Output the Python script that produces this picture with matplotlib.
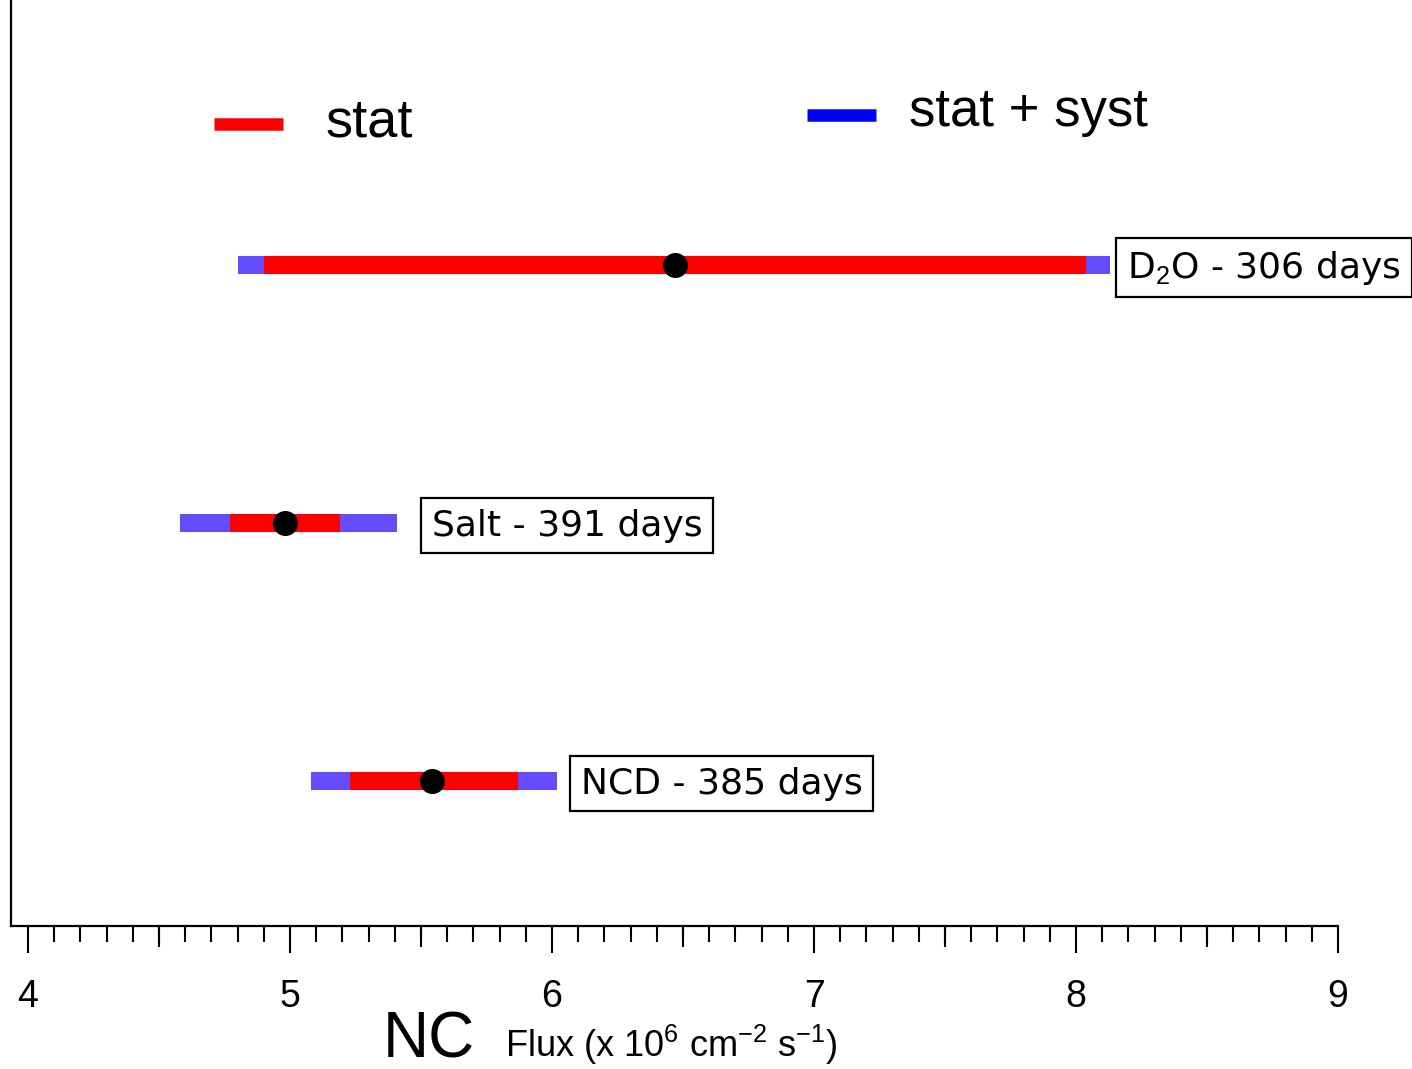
import numpy as np
import matplotlib.pyplot as plt

plt.rcParams['mathtext.fontset'] = 'custom'
plt.rcParams['mathtext.rm'] = 'Liberation Sans'
plt.rcParams['mathtext.it'] = 'Liberation Sans'

narrow = ['Liberation Sans', 'DejaVu Sans']

# data (NC flux, x 10^6 cm^-2 s^-1)
phases = ['D$_2$O - 306 days', 'Salt - 391 days', 'NCD - 385 days']
ypos = [3, 2, 1]
central = [6.47, 4.98, 5.54]
stat_lo = [4.90, 4.77, 5.23]
stat_hi = [8.04, 5.19, 5.87]
tot_lo = [4.80, 4.58, 5.08]
tot_hi = [8.13, 5.41, 6.02]
label_x = [8.195, 5.54, 6.11]

fig = plt.figure(figsize=(14.12, 10.69), dpi=100)
ax = fig.add_axes([11 / 1412, 1 - 926 / 1069, (1338 - 11) / 1412, 926 / 1069])

blue = '#664cff'
for i in range(len(phases)):
    ax.plot([tot_lo[i], tot_hi[i]], [ypos[i], ypos[i]], color=blue, lw=13,
            solid_capstyle='butt')
    ax.plot([stat_lo[i], stat_hi[i]], [ypos[i], ypos[i]], color='#ff0000', lw=13,
            solid_capstyle='butt')
    ax.plot(central[i], ypos[i], 'o', color='black', ms=17)
    ax.text(label_x[i], ypos[i] - 0.01, phases[i], fontsize=26, va='center', ha='left',
            family='DejaVu Sans',
            bbox=dict(boxstyle='square,pad=0.3', fc='white', ec='black', lw=1.6))

# legend keys
ax.plot([0.153, 0.205], [0.866, 0.866], transform=ax.transAxes, color='#ff0000',
        lw=9, solid_capstyle='butt')
ax.text(0.237, 0.868, 'stat', transform=ax.transAxes, fontsize=39, va='center',
        family=narrow)
ax.plot([0.600, 0.652], [0.876, 0.876], transform=ax.transAxes, color='#0000ff',
        lw=9, solid_capstyle='butt')
ax.text(0.677, 0.879, 'stat + syst', transform=ax.transAxes, fontsize=38, va='center',
        family=narrow)

ax.set_xlim(3.935, 9.0)
ax.set_ylim(0.438, 4.027)

for s in ['top', 'right']:
    ax.spines[s].set_visible(False)
ax.spines['left'].set_linewidth(1.6)
ax.spines['bottom'].set_linewidth(1.6)
ax.set_yticks([])

ax.set_xticks(np.arange(4, 10, 1))
ax.set_xticks(np.arange(4, 9.01, 0.1), minor=True)
ax.tick_params(axis='x', which='major', length=19.5, width=1.5, pad=19, labelsize=27)
ax.tick_params(axis='x', which='minor', length=11.5, width=1.5)
for lab in ax.get_xticklabels():
    lab.set_family(narrow)

sec = ax.secondary_xaxis('bottom')
sec.set_xticks(np.arange(4.5, 9, 1.0))
sec.set_xticklabels([])
sec.tick_params(length=15, width=1.5)
sec.spines['bottom'].set_visible(False)

fig.text(383 / 1412, 1 - 1057 / 1069, 'NC', fontsize=46, family=narrow, va='baseline')
fig.text(505 / 1412, 1 - 1057 / 1069, r'Flux (x 10$^{6}$ cm$^{-2}$ s$^{-1}$)', fontsize=26,
         family=narrow, va='baseline')

fig.savefig('out.png', dpi=100)
